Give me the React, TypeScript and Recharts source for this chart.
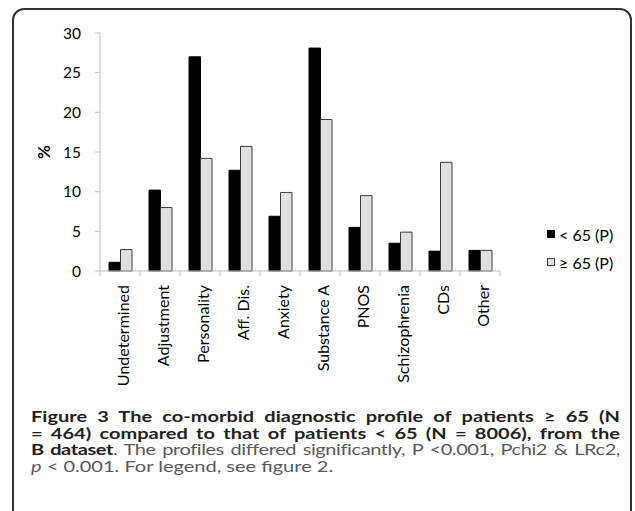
import { BarChart, Bar, XAxis, YAxis, Legend, Label } from 'recharts';

// Co-morbid diagnostic profile, % of patients per diagnosis group
const CATEGORIES = [
  'Undetermined', 'Adjustment', 'Personality', 'Aff. Dis.', 'Anxiety',
  'Substance A', 'PNOS', 'Schizophrenia', 'CDs', 'Other',
];
const UNDER_65 = [1.1, 10.2, 27.0, 12.7, 6.9, 28.1, 5.5, 3.5, 2.5, 2.6];
const OVER_65 = [2.7, 8.0, 14.2, 15.7, 9.9, 19.1, 9.5, 4.9, 13.7, 2.6];
const Y_TICKS = [0, 5, 10, 15, 20, 25, 30];
const SERIES_NAMES = ['< 65 (P)', '≥ 65 (P)'];

const FONT = 'Lato, "Open Sans", sans-serif';
const AXIS_GREY = '#bfbfbf';
const BAR_FILL = ['#000000', '#e0e0e0'];
const BAR_STROKE = ['#000000', '#3a3a3a'];

// caption glyphs in the figure are wide, so the block is stretched horizontally
const CAPTION_SCALE = 1.38;
const CAPTION_WIDTH = 589;

const data = CATEGORIES.map((name, i) => ({ name, under: UNDER_65[i], over: OVER_65[i] }));

// Excel-style category axis: tick marks sit between categories, labels rotated
function CategoryTick(props: any) {
  const { x, y, payload, index } = props;
  const half = payload?.offset || 20;
  const ty = y + 14;
  return (
    <g>
      <line x1={x - half} y1={y} x2={x - half} y2={y + 5} stroke={AXIS_GREY} />
      {index === CATEGORIES.length - 1 && (
        <line x1={x + half} y1={y} x2={x + half} y2={y + 5} stroke={AXIS_GREY} />
      )}
      <text
        x={x + 2}
        y={ty}
        transform={`rotate(-90, ${x + 2}, ${ty})`}
        textAnchor="end"
        dominantBaseline="central"
        fontSize={16}
        fontFamily={FONT}
        fill="#000"
      >
        {payload.value}
      </text>
    </g>
  );
}

function LegendBox(props: any) {
  const items = props.payload || [];
  return (
    <div style={{ fontFamily: FONT, fontSize: 16, color: '#000' }}>
      {items.map((it: any, i: number) => (
        <div key={i} style={{ display: 'flex', alignItems: 'center', height: 28 }}>
          <span
            style={{
              display: 'inline-block', width: 6, height: 6, marginRight: 4,
              background: BAR_FILL[i], border: `1px solid ${BAR_STROKE[i]}`,
            }}
          />
          <span>{it.value}</span>
        </div>
      ))}
    </div>
  );
}

const lineStyle = {
  textAlign: 'justify' as const,
  textAlignLast: 'justify' as const,
  height: 16.5,
  whiteSpace: 'nowrap' as const,
};

export default function App() {
  return (
    <div>
      <div
        style={{
          position: 'absolute', left: 12, top: 8, width: 620, height: 530,
          border: '2px solid #333', borderRadius: 12, boxSizing: 'border-box',
        }}
      />
      <div style={{ position: 'absolute', left: 0, top: 0 }}>
        <BarChart
          width={635}
          height={400}
          data={data}
          margin={{ top: 33, right: 135, bottom: 0, left: 0 }}
          barGap={0}
          barSize={11.5}
        >
          <XAxis
            dataKey="name"
            interval={0}
            height={129}
            tickSize={0}
            tickMargin={0}
            tickLine={false}
            axisLine={{ stroke: AXIS_GREY }}
            tick={<CategoryTick />}
          />
          <YAxis
            width={100}
            domain={[0, 30]}
            ticks={Y_TICKS}
            tickSize={5}
            tickMargin={14}
            axisLine={{ stroke: AXIS_GREY }}
            tickLine={{ stroke: AXIS_GREY }}
            tick={{ fontSize: 15.5, fontFamily: FONT, fill: '#000' }}
          >
            <Label
              content={(p: any) => {
                const vb = p.viewBox || { x: 0, y: 33, height: 238 };
                const cx = vb.x + 43;
                const cy = vb.y + vb.height / 2;
                return (
                  <text
                    x={cx}
                    y={cy}
                    transform={`rotate(-90, ${cx}, ${cy})`}
                    textAnchor="middle"
                    dominantBaseline="central"
                    fontSize={17}
                    fontWeight="bold"
                    fontFamily={FONT}
                    fill="#000"
                  >
                    %
                  </text>
                );
              }}
            />
          </YAxis>
          <Legend
            layout="vertical"
            align="center"
            verticalAlign="middle"
            content={<LegendBox />}
            wrapperStyle={{ left: 547, top: 220, width: 90 }}
          />
          <Bar dataKey="under" name={SERIES_NAMES[0]} fill={BAR_FILL[0]} stroke={BAR_STROKE[0]} strokeWidth={1} isAnimationActive={false} />
          <Bar dataKey="over" name={SERIES_NAMES[1]} fill={BAR_FILL[1]} stroke={BAR_STROKE[1]} strokeWidth={1} isAnimationActive={false} />
        </BarChart>
      </div>
      <div
        style={{
          position: 'absolute', left: 31, top: 409, width: CAPTION_WIDTH / CAPTION_SCALE,
          transform: `scaleX(${CAPTION_SCALE})`, transformOrigin: 'left top',
          fontFamily: FONT, fontSize: 14.5, lineHeight: '16.5px',
          color: '#58595b',
        }}
      >
        <div style={{ ...lineStyle, fontWeight: 'bold', color: '#231f20' }}>
          Figure 3 The co-morbid diagnostic profile of patients ≥ 65 (N
        </div>
        <div style={{ ...lineStyle, fontWeight: 'bold', color: '#231f20' }}>
          = 464) compared to that of patients &lt; 65 (N = 8006), from the
        </div>
        <div style={{ ...lineStyle, letterSpacing: -0.3 }}>
          <b style={{ color: '#231f20' }}>B dataset</b>. The profiles differed significantly, P &lt;0.001, Pchi2 &amp; LRc2,
        </div>
        <div style={{ height: 16.5, whiteSpace: 'nowrap' }}>
          <i>p</i> &lt; 0.001. For legend, see figure 2.
        </div>
      </div>
    </div>
  );
}
